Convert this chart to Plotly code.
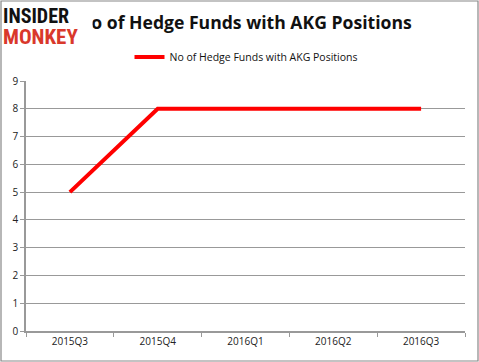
import plotly.graph_objects as go

categories = ["2015Q3", "2015Q4", "2016Q1", "2016Q2", "2016Q3"]
values = [5, 8, 8, 8, 8]
series_name = "No of Hedge Funds with AKG Positions"
title_text = "No of Hedge Funds with AKG Positions"
y_ticks = list(range(0, 10))

L, R, T, B = 26, 14, 81, 31
W, H = 479, 362
pw, ph = W - L - R, H - T - B

def px_x(x):
    return (x - L) / pw

def px_y(y):
    return (H - B - y) / ph

fig = go.Figure()
fig.add_trace(go.Scatter(
    x=categories, y=values, mode="lines", name=series_name,
    line=dict(color="#ff0000", width=4),
))

fig.update_layout(
    width=W, height=H,
    margin=dict(l=L, r=R, t=T, b=B, autoexpand=False),
    paper_bgcolor="white", plot_bgcolor="white",
    font=dict(family="Open Sans, Liberation Sans, sans-serif", size=10, color="#222"),
    showlegend=True,
    legend=dict(orientation="h", x=px_x(246), xanchor="center", y=px_y(57), yanchor="middle",
                font=dict(size=10.5, color="#111"), itemwidth=30),
    xaxis=dict(type="category", showgrid=False, showline=True, linecolor="#999", linewidth=1.5,
               ticks="outside", tickson="boundaries", ticklen=4, tickcolor="#999", automargin=False,
               tickfont=dict(size=10, color="#222"), range=[-0.5, 4.5]),
    yaxis=dict(range=[0, 9], tickvals=y_ticks, showgrid=True, gridcolor="#999", gridwidth=1,
               showline=True, linecolor="#999", linewidth=1.5, ticks="outside", ticklen=4, automargin=False,
               tickcolor="#999", tickfont=dict(size=10, color="#222"), zeroline=False),
    shapes=[dict(type="rect", xref="paper", yref="paper",
                 x0=px_x(1), x1=px_x(478), y0=px_y(361), y1=px_y(1),
                 line=dict(color="#888", width=1.2), fillcolor="rgba(0,0,0,0)", layer="above")],
    annotations=[
        dict(text="<b>" + title_text + "</b>", xref="paper", yref="paper",
             x=px_x(414), y=px_y(22), xanchor="right", yanchor="middle", showarrow=False,
             font=dict(size=17.6, color="#111", family="Open Sans, sans-serif")),
        dict(text="<b>INSIDER</b>", xref="paper", yref="paper", x=px_x(2), y=px_y(15.5),
             xanchor="left", yanchor="middle", showarrow=False, bgcolor="white", borderpad=0,
             width=89, height=20, align="left",
             font=dict(size=20, color="#111", family="Liberation Sans Narrow, Roboto Condensed, sans-serif")),
        dict(text="<b>MONKEY</b>", xref="paper", yref="paper", x=px_x(2), y=px_y(36),
             xanchor="left", yanchor="middle", showarrow=False, bgcolor="white", borderpad=0,
             width=89, height=21, align="left",
             font=dict(size=21, color="#d9382b", family="Liberation Sans Narrow, Roboto Condensed, sans-serif")),
    ],
)

fig.write_html("out.html", config={"displayModeBar": False},
               post_script="document.body.style.margin='0';document.body.style.padding='0';")
